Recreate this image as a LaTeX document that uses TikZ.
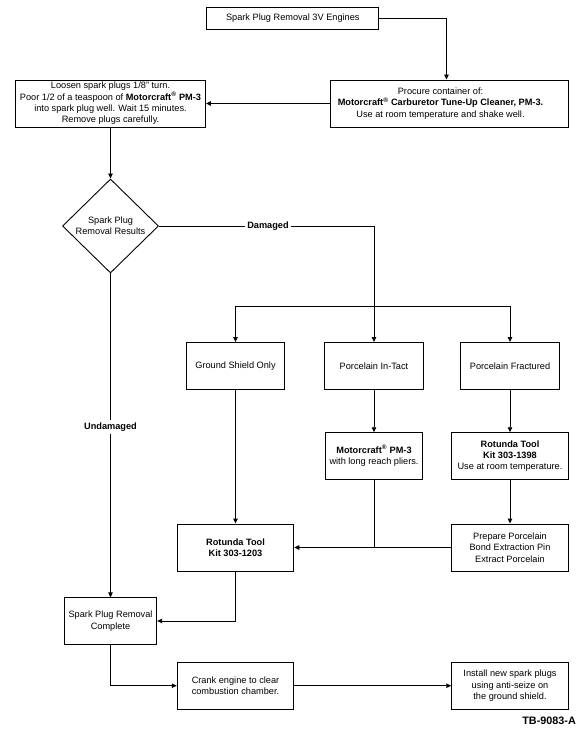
\documentclass[tikz,border=0pt]{standalone}
\usepackage{fontspec}
\setmainfont{Liberation Sans}
\usetikzlibrary{shapes.geometric, arrows.meta}

\begin{document}
\begin{tikzpicture}[x=1pt, y=-1pt,
    box/.style={draw, line width=0.9pt, align=center, inner sep=1.5pt,
        font=\fontsize{9.2}{11.3}\selectfont},
    decision/.style={draw, diamond, line width=0.9pt, align=center, inner sep=0pt,
        font=\fontsize{9.2}{10.7}\selectfont},
    lbl/.style={fill=white, inner sep=2pt, font=\bfseries\fontsize{9.2}{11}\selectfont},
    link/.style={line width=0.9pt},
    flow/.style={link, -{Triangle[length=5pt, width=4.5pt]}}]
    \useasboundingbox (0,0) rectangle (580,730);

    % top row
    \node[box, minimum width=172, minimum height=22] (start) at (292.8,18)
        {Spark Plug Removal 3V Engines};
    \node[box, minimum width=237.6, minimum height=47] (procure) at (449.5,103.5)
        {\begin{tabular}{@{}c@{\hspace{18pt}}}
         Procure container of:\\
         \textbf{Motorcraft\textsuperscript{®} Carburetor Tune-Up Cleaner, PM-3.}\\
         Use at room temperature and shake well.
         \end{tabular}};
    \node[box, minimum width=190, minimum height=47] (loosen) at (110.5,103.5)
        {Loosen spark plugs 1/8'' turn.\\
         Poor 1/2 of a teaspoon of \textbf{Motorcraft\textsuperscript{®} PM-3}\\
         into spark plug well. Wait 15 minutes.\\
         Remove plugs carefully.};
    \node[decision, minimum width=96, minimum height=94] (results) at (110.5,226)
        {Spark Plug\\ Removal Results};

    % damaged branches
    \node[box, minimum width=98.6, minimum height=47] (ground) at (235.5,366) {Ground Shield Only};
    \node[box, minimum width=99, minimum height=47] (intact) at (374,366) {Porcelain In-Tact};
    \node[box, minimum width=98.6, minimum height=47] (fractured) at (510,366) {Porcelain Fractured};
    \node[box, minimum width=97.6, minimum height=46.6] (pm3) at (374,456)
        {\textbf{Motorcraft\textsuperscript{®} PM-3}\\ with long reach pliers.};
    \node[box, minimum width=116.6, minimum height=46.6] (kitA) at (510,456)
        {\textbf{Rotunda Tool}\\ \textbf{Kit 303-1398}\\ Use at room temperature.};
    \node[box, minimum width=116.6, minimum height=47] (kitB) at (235.5,547.5)
        {\textbf{Rotunda Tool}\\ \textbf{Kit 303-1203}};
    \node[box, minimum width=116.6, minimum height=47] (prepare) at (510,547.5)
        {Prepare Porcelain\\ Bond Extraction Pin\\ Extract Porcelain};

    % bottom row
    \node[box, minimum width=92.4, minimum height=46.3] (complete) at (110.5,621)
        {Spark Plug Removal\\ Complete};
    \node[box, minimum width=116.6, minimum height=46.7] (crank) at (235.5,685.7)
        {Crank engine to clear\\ combustion chamber.};
    \node[box, minimum width=116.6, minimum height=46.7] (install) at (510,685.7)
        {Install new spark plugs\\ using anti-seize on\\ the ground shield.};

    \node[lbl] (dmg) at (268,226) {Damaged};
    \node[lbl] (undmg) at (110.5,427) {Undamaged};
    \node[anchor=east, inner sep=0pt, font=\bfseries\fontsize{10.8}{12}\selectfont] (tag) at (576,721) {TB-9083-A};

    \coordinate (split) at ([yshift=35.6pt]intact.north);

    \draw[flow] (start.east) -| ([xshift=-3pt]procure.north);
    \draw[flow] (procure.west) -- (loosen.east);
    \draw[flow] (loosen.south) -- (results.north);
    \draw[link] (results.east) -- (dmg.west);
    \draw[flow] (dmg.east) -| (intact.north);
    \draw[flow] (split) -| (ground.north);
    \draw[flow] (split) -| (fractured.north);
    \draw[link] (results.south) -- (undmg.north);
    \draw[flow] (undmg.south) -- (complete.north);
    \draw[flow] (intact.south) -- (pm3.north);
    \draw[flow] (fractured.south) -- (kitA.north);
    \draw[flow] (kitA.south) -- (prepare.north);
    \draw[flow] (ground.south) -- (kitB.north);
    \draw[flow] (prepare.west) -- (kitB.east);
    \draw[link] (pm3.south) -- (pm3.south |- kitB.east);
    \draw[flow] (kitB.south) |- (complete.east);
    \draw[flow] (complete.south) |- (crank.west);
    \draw[flow] (crank.east) -- (install.west);
\end{tikzpicture}
\end{document}
